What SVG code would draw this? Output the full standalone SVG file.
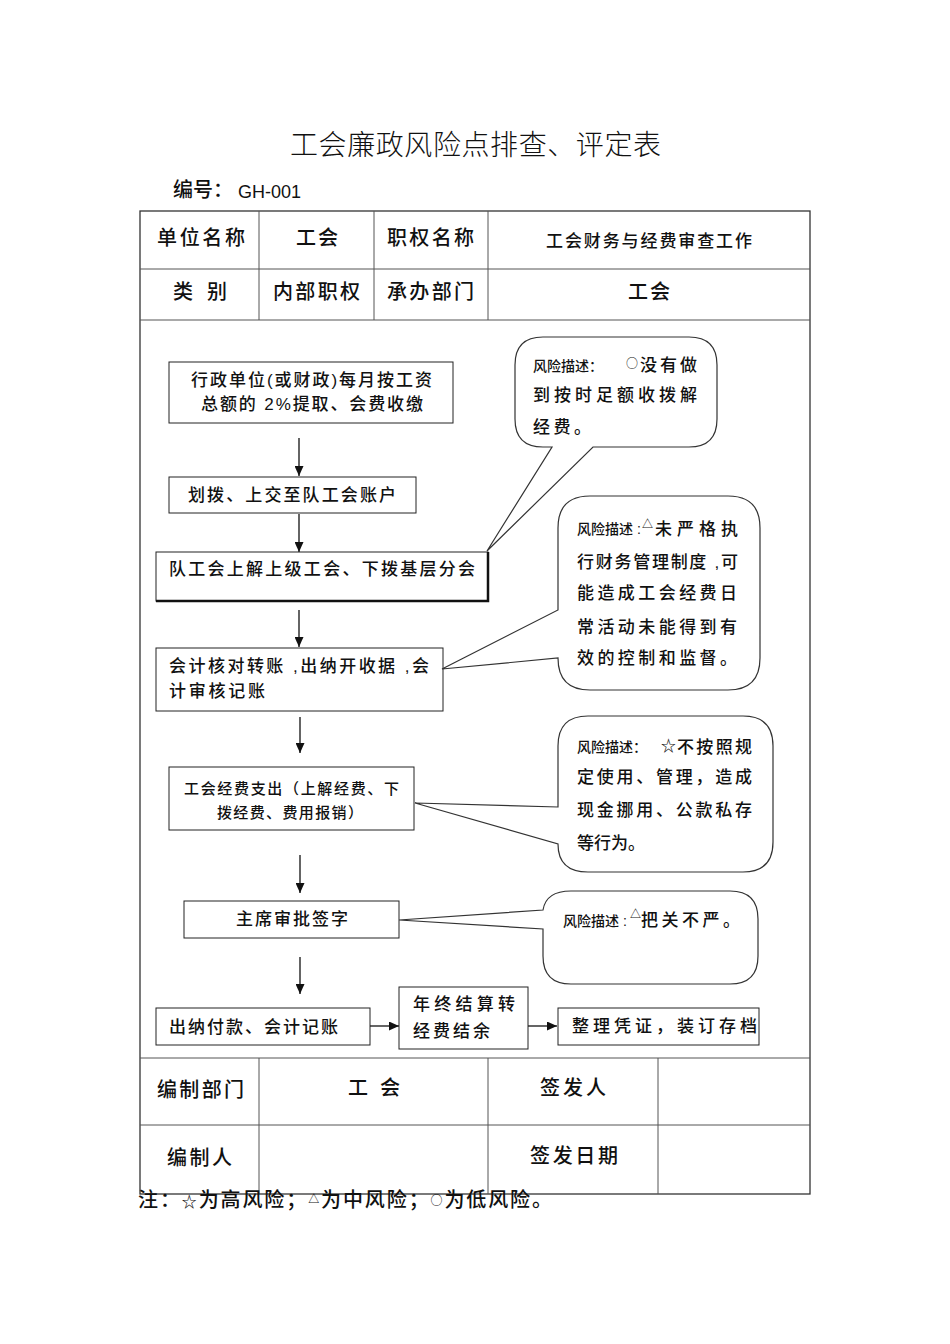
<svg xmlns="http://www.w3.org/2000/svg" width="950" height="1344" viewBox="0 0 950 1344">
<style>
text{font-family:"Liberation Sans","Noto Sans CJK SC",sans-serif;fill:#111;font-weight:500}
.t20{font-size:20px}
.t17{font-size:17px}
.t15{font-size:15px}
.t14{font-size:14px}
.sym{font-size:11px}
.cjk{font-family:"Noto Sans CJK SC",sans-serif;font-weight:400}
.grid{stroke:#555;stroke-width:1;fill:none}
.outer{stroke:#333;stroke-width:1.3;fill:none}
.box{fill:#fff;stroke:#222;stroke-width:1}
.call{fill:#fff;stroke:#333;stroke-width:1.2}
.arr{stroke:#111;stroke-width:1.3;fill:none;marker-end:url(#ah)}
</style>
<defs>
<marker id="ah" markerWidth="10" markerHeight="9" refX="10" refY="4.5" orient="auto" markerUnits="userSpaceOnUse">
<path d="M0,0 L10,4.5 L0,9 Z" fill="#111"/>
</marker>
</defs>
<rect width="950" height="1344" fill="#fff"/>

<g id="title">
<text x="290" y="155" font-size="28" style="font-weight:300" textLength="371">工会廉政风险点排查、评定表</text>
<text x="173" y="197" class="t20">编号：</text>
<text x="238" y="198" font-size="18" style="font-weight:400">GH-001</text>
</g>

<g id="table">
<rect x="140" y="211" width="670" height="983" class="outer"/>
<line x1="140" y1="269" x2="810" y2="269" class="grid"/>
<line x1="140" y1="320" x2="810" y2="320" class="grid"/>
<line x1="259" y1="211" x2="259" y2="320" class="grid"/>
<line x1="374" y1="211" x2="374" y2="320" class="grid"/>
<line x1="488" y1="211" x2="488" y2="320" class="grid"/>
<line x1="140" y1="1058" x2="810" y2="1058" class="grid"/>
<line x1="140" y1="1125" x2="810" y2="1125" class="grid"/>
<line x1="259" y1="1058" x2="259" y2="1194" class="grid"/>
<line x1="488" y1="1058" x2="488" y2="1194" class="grid"/>
<line x1="658" y1="1058" x2="658" y2="1194" class="grid"/>
<text x="157" y="245" class="t20" textLength="88">单位名称</text>
<text x="296" y="245" class="t20" textLength="42">工会</text>
<text x="387" y="245" class="t20" textLength="87">职权名称</text>
<text x="546" y="247" class="t17" textLength="206">工会财务与经费审查工作</text>
<text x="173" y="299" class="t20" textLength="54">类 别</text>
<text x="273" y="299" class="t20" textLength="87">内部职权</text>
<text x="387" y="299" class="t20" textLength="87">承办部门</text>
<text x="628" y="299" class="t20" textLength="42">工会</text>
<text x="157" y="1097" class="t20" textLength="87">编制部门</text>
<text x="348" y="1095" class="t20" textLength="52">工 会</text>
<text x="540" y="1095" class="t20" textLength="66">签发人</text>
<text x="167" y="1165" class="t20" textLength="65">编制人</text>
<text x="530" y="1163" class="t20" textLength="88">签发日期</text>
</g>

<g id="connectors">
<line x1="299" y1="438" x2="299" y2="476" class="arr"/>
<line x1="299" y1="514" x2="299" y2="552" class="arr"/>
<line x1="299" y1="610" x2="299" y2="647" class="arr"/>
<line x1="300" y1="717" x2="300" y2="753" class="arr"/>
<line x1="300" y1="855" x2="300" y2="893" class="arr"/>
<line x1="300" y1="957" x2="300" y2="994" class="arr"/>
<line x1="370" y1="1026" x2="399" y2="1026" class="arr"/>
<line x1="528" y1="1026" x2="557" y2="1026" class="arr"/>
</g>

<g id="n1">
<rect x="169" y="362" width="284" height="61" class="box"/>
<text x="191" y="386" class="t17" textLength="241">行政单位(或财政)每月按工资</text>
<text x="201" y="410" class="t17" textLength="222">总额的 2%提取、会费收缴</text>
</g>
<g id="n2">
<rect x="169" y="477" width="247" height="36" class="box"/>
<text x="188" y="501" class="t17" textLength="208">划拨、上交至队工会账户</text>
</g>
<g id="n3">
<rect x="156" y="552" width="332" height="49" class="box"/>
<path d="M156,601 H488 V552" fill="none" stroke="#111" stroke-width="2.5"/>
<text x="169" y="575" class="t17" textLength="306">队工会上解上级工会、下拨基层分会</text>
</g>
<g id="n4">
<rect x="156" y="648" width="287" height="63" class="box"/>
<text x="169" y="672" class="t17" textLength="260">会计核对转账 ,出纳开收据 ,会</text>
<text x="169" y="697" class="t17" textLength="96">计审核记账</text>
</g>
<g id="n5">
<rect x="169" y="767" width="245" height="63" class="box"/>
<text x="184" y="794" class="t15" textLength="215">工会经费支出（上解经费、下</text>
<text x="217" y="818" class="t15" textLength="146">拨经费、费用报销）</text>
</g>
<g id="n6">
<rect x="184" y="901" width="215" height="37" class="box"/>
<text x="236" y="925" class="t17" textLength="112">主席审批签字</text>
</g>
<g id="n7">
<rect x="156" y="1008" width="214" height="37" class="box"/>
<text x="169" y="1033" class="t17" textLength="169">出纳付款、会计记账</text>
</g>
<g id="n8">
<rect x="399" y="987" width="129" height="62" class="box"/>
<text x="413" y="1010" class="t17" textLength="102">年终结算转</text>
<text x="413" y="1037" class="t17" textLength="77">经费结余</text>
</g>
<g id="n9">
<rect x="558" y="1008" width="201" height="37" class="box"/>
<text x="572" y="1032" class="t17" textLength="185">整理凭证，装订存档</text>
</g>

<g id="c1">
<path d="M543,337 H689 Q717,337 717,365 V419 Q717,447 689,447 H593 L487,551 L552,447 H543 Q515,447 515,419 V365 Q515,337 543,337 Z" class="call"/>
<text x="533" y="371" class="t14">风险描述：</text>
<text x="626" y="368" font-size="12" class="cjk">○</text>
<text x="640" y="371" class="t17" textLength="57">没有做</text>
<text x="533" y="401" class="t17" textLength="164">到按时足额收拨解</text>
<text x="533" y="433" class="t17" textLength="58">经费。</text>
</g>
<g id="c2">
<path d="M590,496 H728 Q760,496 760,528 V658 Q760,690 728,690 H590 Q558,690 558,658 L442,669 L558,610 V528 Q558,496 590,496 Z" class="call"/>
<text x="577" y="534" class="t14">风险描述 :</text>
<text x="642" y="528" class="sym">△</text>
<text x="655" y="535" class="t17" textLength="83">未严格执</text>
<text x="577" y="568" class="t17" textLength="161">行财务管理制度 ,可</text>
<text x="577" y="599" class="t17" textLength="160">能造成工会经费日</text>
<text x="577" y="633" class="t17" textLength="160">常活动未能得到有</text>
<text x="577" y="664" class="t17" textLength="160">效的控制和监督。</text>
</g>
<g id="c3">
<path d="M588,716 H743 Q773,716 773,746 V842 Q773,872 743,872 H588 Q558,872 558,844 L415,803 L558,807 V746 Q558,716 588,716 Z" class="call"/>
<text x="577" y="752" class="t14">风险描述：</text>
<text x="661" y="751" font-size="15">☆</text>
<text x="677" y="753" class="t17" textLength="75">不按照规</text>
<text x="577" y="783" class="t17" textLength="175">定使用、管理，造成</text>
<text x="577" y="816" class="t17" textLength="175">现金挪用、公款私存</text>
<text x="577" y="849" class="t17">等行为。</text>
</g>
<g id="c4">
<path d="M571,891 H730 Q758,891 758,919 V956 Q758,984 730,984 H571 Q543,984 543,956 V929 L399,920 L543,910 Q546,891 571,891 Z" class="call"/>
<text x="563" y="926" class="t14">风险描述 :</text>
<text x="630" y="918" class="sym">△</text>
<text x="641" y="926" class="t17" textLength="99">把关不严。</text>
</g>

<g id="note">
<text x="138" y="1207" class="t20" textLength="414">注：<tspan font-size="15">☆</tspan>为高风险；<tspan font-size="11" dy="-4">△</tspan><tspan dy="4">为中风险；</tspan><tspan font-size="12" dy="-2" class="cjk">○</tspan><tspan dy="2">为低风险。</tspan></text>
</g>
</svg>
